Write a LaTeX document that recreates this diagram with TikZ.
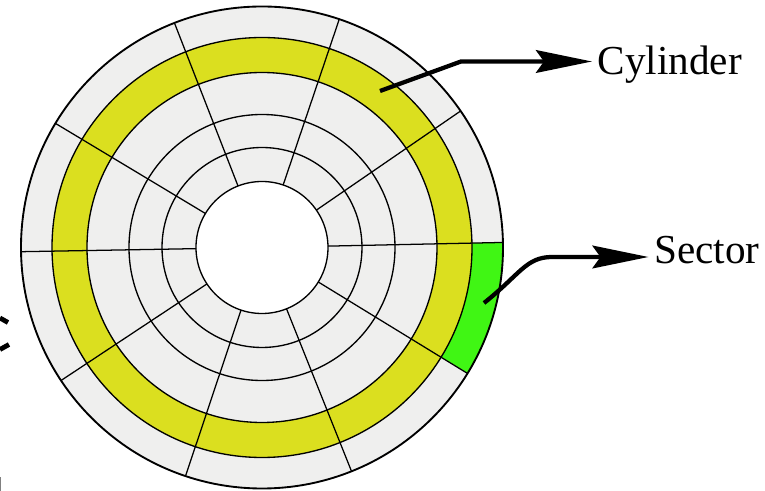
\documentclass[tikz,border=0pt]{standalone}
\usepackage{fontspec}
\setmainfont{Liberation Serif}
\usetikzlibrary{arrows.meta,positioning}
\definecolor{Platter}{HTML}{EFEFEE}
\definecolor{Track}{HTML}{DBDF1F}
\definecolor{Block}{HTML}{40F614}

\begin{document}
\begin{tikzpicture}[
  x=0.75pt,y=0.75pt,
  ring/.style={draw=black,line width=1pt},
  spoke/.style={draw=black,line width=0.95pt},
  lbl/.style={font=\fontsize{30.9}{32}\selectfont,inner sep=4pt,anchor=west,text height=20pt},
  arr/.style={-{Stealth[length=42pt,width=17pt,inset=6pt]},line width=3.2pt,draw=black}
]
  \useasboundingbox (-262,-243.5) rectangle (503,247.5);
  % platter and tracks
  \fill[Platter] (0,0) circle (241);
  \fill[Track,even odd rule] (0,0) circle (210) circle (175);
  \fill[Block] (1.2:210) -- (1.2:241) arc (1.2:-31.4:241) -- (-31.4:210) arc (-31.4:1.2:210) -- cycle;
  \fill[white] (0,0) circle (66);
  \foreach \rad in {66,100,133,175,210}
    \draw[ring] (0,0) circle (\rad);
  \draw[ring,line width=1.4pt] (0,0) circle (241);
  % sector lines
  \foreach \ang in {71.3,111.3,149,181,213.5,251.5,291.8,328.5,1.2,34.5}
    \draw[spoke] (\ang:66) -- (\ang:241);
  % labels
  \node[lbl,text depth=0pt] (cylinder) at (330,186) {Cylinder};
  \node[lbl,text depth=9.5pt] (sector) at (386.5,-9.5) {Sector};
  \coordinate (cylstart) at (118,156.5);
  \coordinate (cylbend) at (199,186);
  \coordinate (secstart) at (222,-55.5);
  \coordinate (secbend) at (290,-9.5);
  \draw[arr] (cylstart) -- (cylbend) -- (cylinder.west);
  \draw[arr] (secstart) .. controls (258,-27) and (264,-9.5) .. (secbend) -- (sector.west);
  % cut-off bits at the left edge
  \draw[line width=3.6pt] (-262,-70.5) -- (-254,-75);
  \draw[line width=3.6pt] (-262,-102) -- (-253,-97);
  \fill[gray] (-262,-243.5) rectangle (-261,-230);
\end{tikzpicture}
\end{document}
